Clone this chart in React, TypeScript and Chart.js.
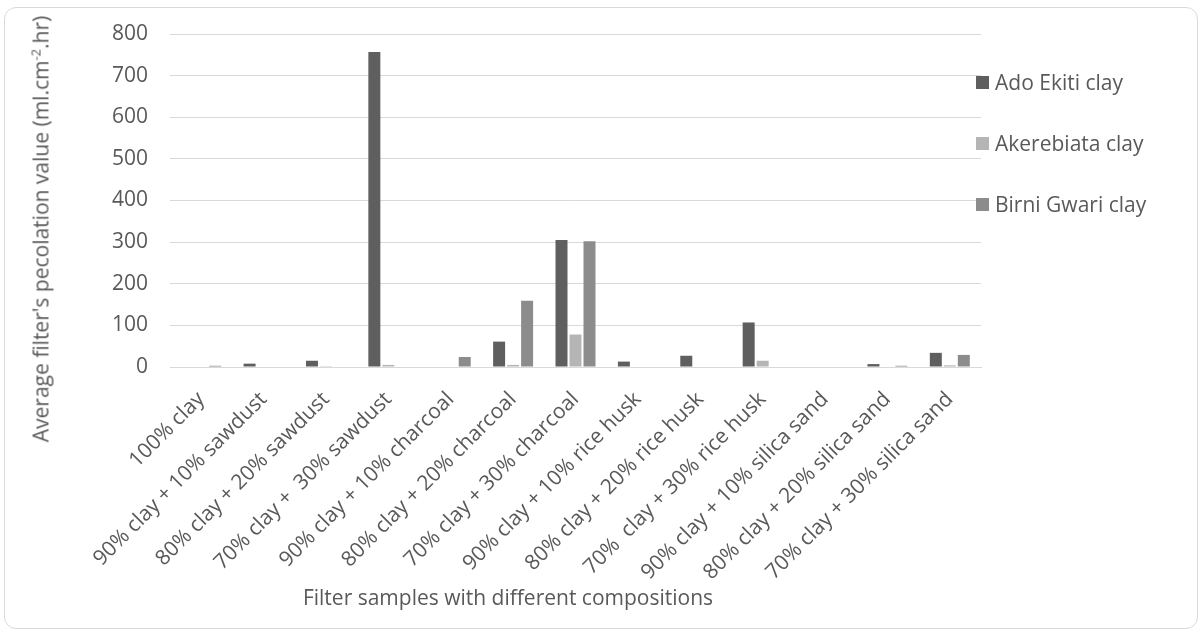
import React, { useEffect, useRef } from "react";
import { Chart, registerables } from "chart.js";

Chart.register(...registerables);

const categories = [
  "100% clay",
  "90% clay + 10% sawdust",
  "80% clay + 20% sawdust",
  "70% clay +  30% sawdust",
  "90% clay + 10% charcoal",
  "80% clay + 20% charcoal",
  "70% clay + 30% charcoal",
  "90% clay + 10% rice husk",
  "80% clay + 20% rice husk",
  "70%  clay + 30% rice husk",
  "90% clay + 10% silica sand",
  "80% clay + 20% silica sand",
  "70% clay + 30% silica sand",
];

const adoEkiti = [0, 8, 15, 757, 0, 61, 305, 13, 27, 107, 0, 7, 34];
const akerebiata = [0, 0, 2, 5, 0, 5, 78, 0, 0, 15, 0, 0, 4];
const birniGwari = [3, 0, 0, 0, 24, 159, 302, 0, 0, 0, 0, 3, 29];

const seriesNames = ["Ado Ekiti clay", "Akerebiata clay", "Birni Gwari clay"];
const seriesColors = ["#5f5f5f", "#b5b5b5", "#8c8c8c"];

const yMin = 0;
const yMax = 800;
const yStep = 100;

const FONT = "'Open Sans', sans-serif";
const TEXT = "#595959";
const W = 1192;
const H = 620;

export default function App() {
  const ref = useRef<HTMLCanvasElement | null>(null);

  useEffect(() => {
    if (!ref.current) return;
    const chart = new Chart(ref.current, {
      type: "bar",
      data: {
        labels: categories,
        datasets: [adoEkiti, akerebiata, birniGwari].map((d, i) => ({
          label: seriesNames[i],
          data: d,
          backgroundColor: seriesColors[i],
          borderWidth: 0,
          categoryPercentage: 0.673,
          barPercentage: 0.857,
        })),
      },
      options: {
        responsive: false,
        animation: false,
        devicePixelRatio: 1,
        layout: { padding: { top: 26, right: W - 976, bottom: 0, left: 0 } },
        plugins: {
          legend: { display: false },
          tooltip: { enabled: false },
        },
        scales: {
          x: {
            grid: { display: false, drawTicks: false },
            border: { display: true, color: "#d9d9d9", width: 1 },
            ticks: {
              color: TEXT,
              font: { family: FONT, size: 21 },
              minRotation: 45,
              maxRotation: 45,
              autoSkip: false,
              padding: 20,
            },
            afterFit: (s: any) => {
              s.height = H - 359;
              s.paddingTop = 0;
              s.paddingBottom = 0;
            },
          },
          y: {
            min: yMin,
            max: yMax,
            grid: { color: "#d9d9d9", lineWidth: 1, drawTicks: false },
            border: { display: false },
            ticks: {
              stepSize: yStep,
              color: TEXT,
              font: { family: FONT, size: 21 },
              padding: 22,
            },
            afterFit: (s: any) => {
              s.width = 165;
              s.paddingTop = 0;
              s.paddingBottom = 0;
            },
          },
        },
      },
    });
    return () => chart.destroy();
  }, []);

  const legendY = [82, 143, 204];

  return (
    <div
      style={{
        position: "fixed",
        left: 4,
        top: 7,
        width: 1194,
        height: 622,
        boxSizing: "border-box",
        border: "1px solid #d9d9d9",
        borderRadius: 12,
        background: "#fff",
        fontFamily: FONT,
        color: TEXT,
        overflow: "hidden",
      }}
    >
      <canvas
        ref={ref}
        width={W}
        height={H}
        style={{ position: "absolute", left: 0, top: 0, width: W, height: H }}
      />
      <div
        style={{
          position: "absolute",
          left: 38 - 5,
          top: 229 - 8,
          transform: "translate(-50%, -50%) rotate(-90deg)",
          whiteSpace: "nowrap",
          fontSize: 21,
          lineHeight: "24px",
        }}
      >
        Average filter's pecolation value (ml.cm<sup style={{ fontSize: 13 }}>-2</sup>.hr)
      </div>
      <div
        style={{
          position: "absolute",
          left: 508 - 5,
          top: 597 - 8,
          transform: "translate(-50%, -50%)",
          whiteSpace: "nowrap",
          fontSize: 21,
          lineHeight: "24px",
        }}
      >
        Filter samples with different compositions
      </div>
      {seriesNames.map((n, i) => (
        <div
          key={n}
          style={{
            position: "absolute",
            left: 976 - 5,
            top: legendY[i] - 8 - 12,
            height: 24,
            display: "flex",
            alignItems: "center",
            whiteSpace: "nowrap",
            fontSize: 21,
          }}
        >
          <span
            style={{
              display: "inline-block",
              width: 13,
              height: 13,
              background: seriesColors[i],
              marginRight: 6,
            }}
          />
          {n}
        </div>
      ))}
    </div>
  );
}
